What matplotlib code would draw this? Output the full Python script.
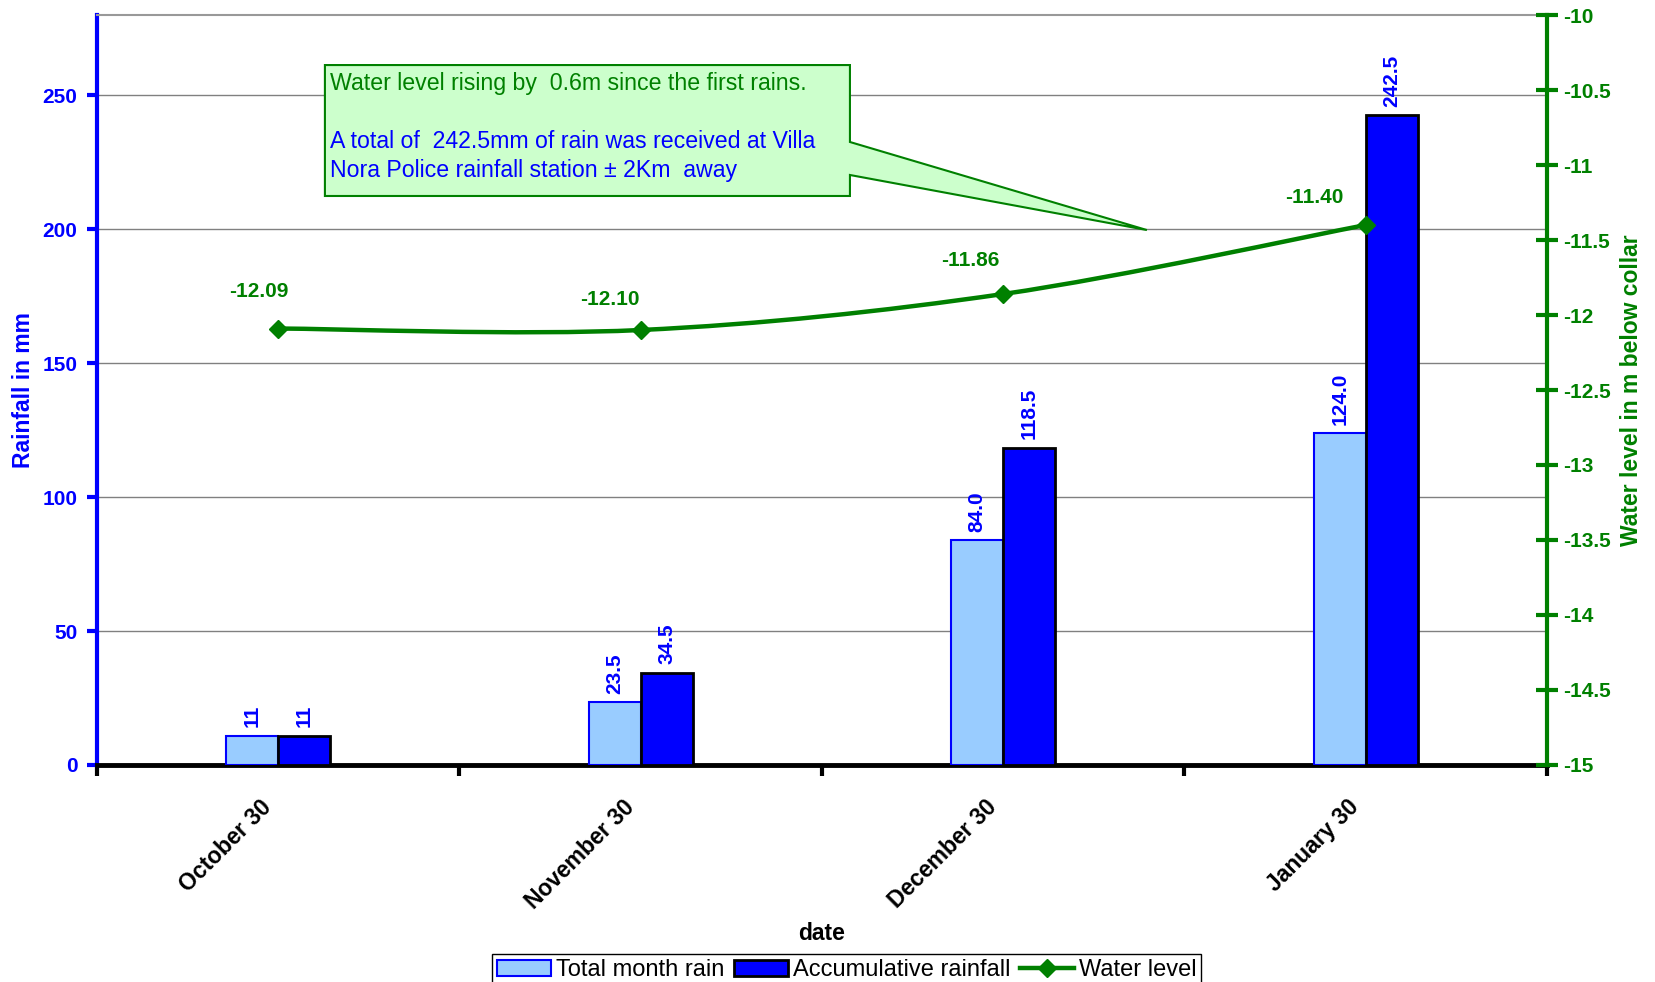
import numpy as np
import matplotlib
matplotlib.use('Agg')
import matplotlib.pyplot as plt
from matplotlib.path import Path
from matplotlib.patches import PathPatch, Polygon, Patch
from matplotlib.lines import Line2D

plt.rcParams['font.family'] = ['Liberation Sans', 'DejaVu Sans']

dates = ['October 30', 'November 30', 'December 30', 'January 30']
month_rain = [11, 23.5, 84.0, 124.0]
month_rain_labels = ['11', '23.5', '84.0', '124.0']
accum_rain = [11, 34.5, 118.5, 242.5]
accum_rain_labels = ['11', '34.5', '118.5', '242.5']
water_level = [-12.09, -12.10, -11.86, -11.40]
water_level_labels = ['-12.09', '-12.10', '-11.86', '-11.40']
# label offsets (points) for the water level labels, as placed in the original
wl_offsets = [(-14, 27), (-22, 22), (-24, 24), (-37, 20)]

GREEN = '#008000'
BLUE = '#0000FF'
LIGHT = '#99CCFF'

fig = plt.figure(figsize=(16.55, 9.82), dpi=100)
ax = fig.add_axes([0.0586, 0.2210, 0.8761, 0.7637])
ax2 = ax.twinx()

x = np.arange(len(dates))
w = 0.1435
b1 = ax.bar(x - w / 2, month_rain, w, color=LIGHT, edgecolor=BLUE, linewidth=1.5, zorder=3)
b2 = ax.bar(x + w / 2, accum_rain, w, color=BLUE, edgecolor='black', linewidth=2, zorder=3)

for rect, lab in zip(b1, month_rain_labels):
    ax.annotate(lab, (rect.get_x() + rect.get_width() / 2, rect.get_height()),
                xytext=(0, 6), textcoords='offset points', rotation=90,
                ha='center', va='bottom', color=BLUE, fontsize=15, fontweight='bold')
for rect, lab in zip(b2, accum_rain_labels):
    ax.annotate(lab, (rect.get_x() + rect.get_width() / 2, rect.get_height()),
                xytext=(0, 6), textcoords='offset points', rotation=90,
                ha='center', va='bottom', color=BLUE, fontsize=15, fontweight='bold')

ax.set_xlim(-0.5, 3.5)
ax.set_ylim(0, 280)
ax.set_yticks(np.arange(0, 251, 50))
ax.yaxis.grid(True, color='#808080', linewidth=1)
ax.set_axisbelow(True)

# labels sit a little left of the category centre, as in the original
ax.set_xticks(x - 0.05)
ax.set_xticklabels(dates, rotation=45, ha='right', va='top', rotation_mode='anchor',
                   fontsize=16.5, fontweight='bold')
ax.set_xticks(np.arange(-0.5, 4, 1), minor=True)
ax.tick_params(axis='x', which='major', length=0, pad=22)
ax.tick_params(axis='x', which='minor', length=8, width=3, color='black', direction='out')
ax.tick_params(axis='y', length=7, width=3, color=BLUE, labelcolor=BLUE, labelsize=15, pad=7)
for t in ax.get_yticklabels():
    t.set_fontweight('bold')

ax.spines['left'].set_color(BLUE)
ax.spines['left'].set_linewidth(3)
ax.spines['bottom'].set_color('black')
ax.spines['bottom'].set_linewidth(3.5)
ax.spines['top'].set_color('#999999')
ax.spines['top'].set_linewidth(1.5)
ax.spines['right'].set_visible(False)

ax.set_xlabel('date', fontsize=16.5, fontweight='bold')
ax.xaxis.set_label_coords(0.5, -0.209)
ax.set_ylabel('Rainfall in mm', fontsize=16.5, fontweight='bold', color=BLUE, va='center')
ax.yaxis.set_label_coords(-0.051, 0.5)

# water level, smoothed like the spreadsheet line
ax2.set_ylim(-15, -10)
ax2.set_yticks(np.arange(-15, -9.9, 0.5))
ax2.set_yticklabels([('%g' % v) for v in np.arange(-15, -9.9, 0.5)])
pts = np.column_stack([x, water_level]).astype(float)
ext = np.vstack([pts[0], pts, pts[-1]])
verts = [tuple(pts[0])]
codes = [Path.MOVETO]
for i in range(len(pts) - 1):
    p0, p1, p2, p3 = ext[i], ext[i + 1], ext[i + 2], ext[i + 3]
    verts += [tuple(p1 + (p2 - p0) / 6), tuple(p2 - (p3 - p1) / 6), tuple(p2)]
    codes += [Path.CURVE4] * 3
ax2.add_patch(PathPatch(Path(verts, codes), facecolor='none', edgecolor=GREEN,
                        linewidth=3.2, zorder=4))
ax2.plot(x, water_level, linestyle='none', marker='D', markersize=9, color=GREEN, zorder=5)
for xi, v, lab, off in zip(x, water_level, water_level_labels, wl_offsets):
    ax2.annotate(lab, (xi, v), xytext=off, textcoords='offset points', ha='center',
                 va='center', color=GREEN, fontsize=15, fontweight='bold')

ax2.tick_params(axis='y', length=16, width=3, direction='inout', color=GREEN,
                labelcolor=GREEN, labelsize=15, pad=4)
for t in ax2.get_yticklabels():
    t.set_fontweight('bold')
for s in ['left', 'top', 'bottom']:
    ax2.spines[s].set_visible(False)
ax2.spines['right'].set_color(GREEN)
ax2.spines['right'].set_linewidth(3)
ax2.set_ylabel('Water level in m below collar', fontsize=16.5, fontweight='bold', color=GREEN,
               rotation=90, va='center')
ax2.yaxis.set_label_coords(1.058, 0.5)

# callout box
callout = [(0.1572, 0.7587), (0.5193, 0.7587), (0.5193, 0.7867), (0.7241, 0.7133),
           (0.5193, 0.8307), (0.5193, 0.9333), (0.1572, 0.9333)]
ax2.add_patch(Polygon(callout, closed=True, transform=ax2.transAxes, facecolor='#CCFFCC',
                      edgecolor=GREEN, linewidth=1.5, zorder=6, clip_on=False))
ax2.text(0.1607, 0.9093, 'Water level rising by  0.6m since the first rains.',
         transform=ax2.transAxes, color=GREEN, fontsize=16.7, va='center', ha='left', zorder=7)
ax2.text(0.1607, 0.8307, 'A total of  242.5mm of rain was received at Villa',
         transform=ax2.transAxes, color=BLUE, fontsize=16.7, va='center', ha='left', zorder=7)
ax2.text(0.1607, 0.7933, 'Nora Police rainfall station \u00b1 2Km  away',
         transform=ax2.transAxes, color=BLUE, fontsize=16.7, va='center', ha='left', zorder=7)

handles = [Patch(facecolor=LIGHT, edgecolor=BLUE, linewidth=1.5),
           Patch(facecolor=BLUE, edgecolor='black', linewidth=2),
           Line2D([], [], color=GREEN, linewidth=3.2, marker='D', markersize=9)]
leg = fig.legend(handles, ['Total month rain', 'Accumulative rainfall', 'Water level'],
                 loc='lower center', bbox_to_anchor=(0.5115, -0.004), ncol=3, fontsize=17,
                 fancybox=False, framealpha=1, edgecolor='black', borderpad=0.2,
                 handlelength=2.3, handletextpad=0.2, columnspacing=0.4, borderaxespad=0)
leg.get_frame().set_linewidth(1)

fig.savefig('out.png', dpi=100)
